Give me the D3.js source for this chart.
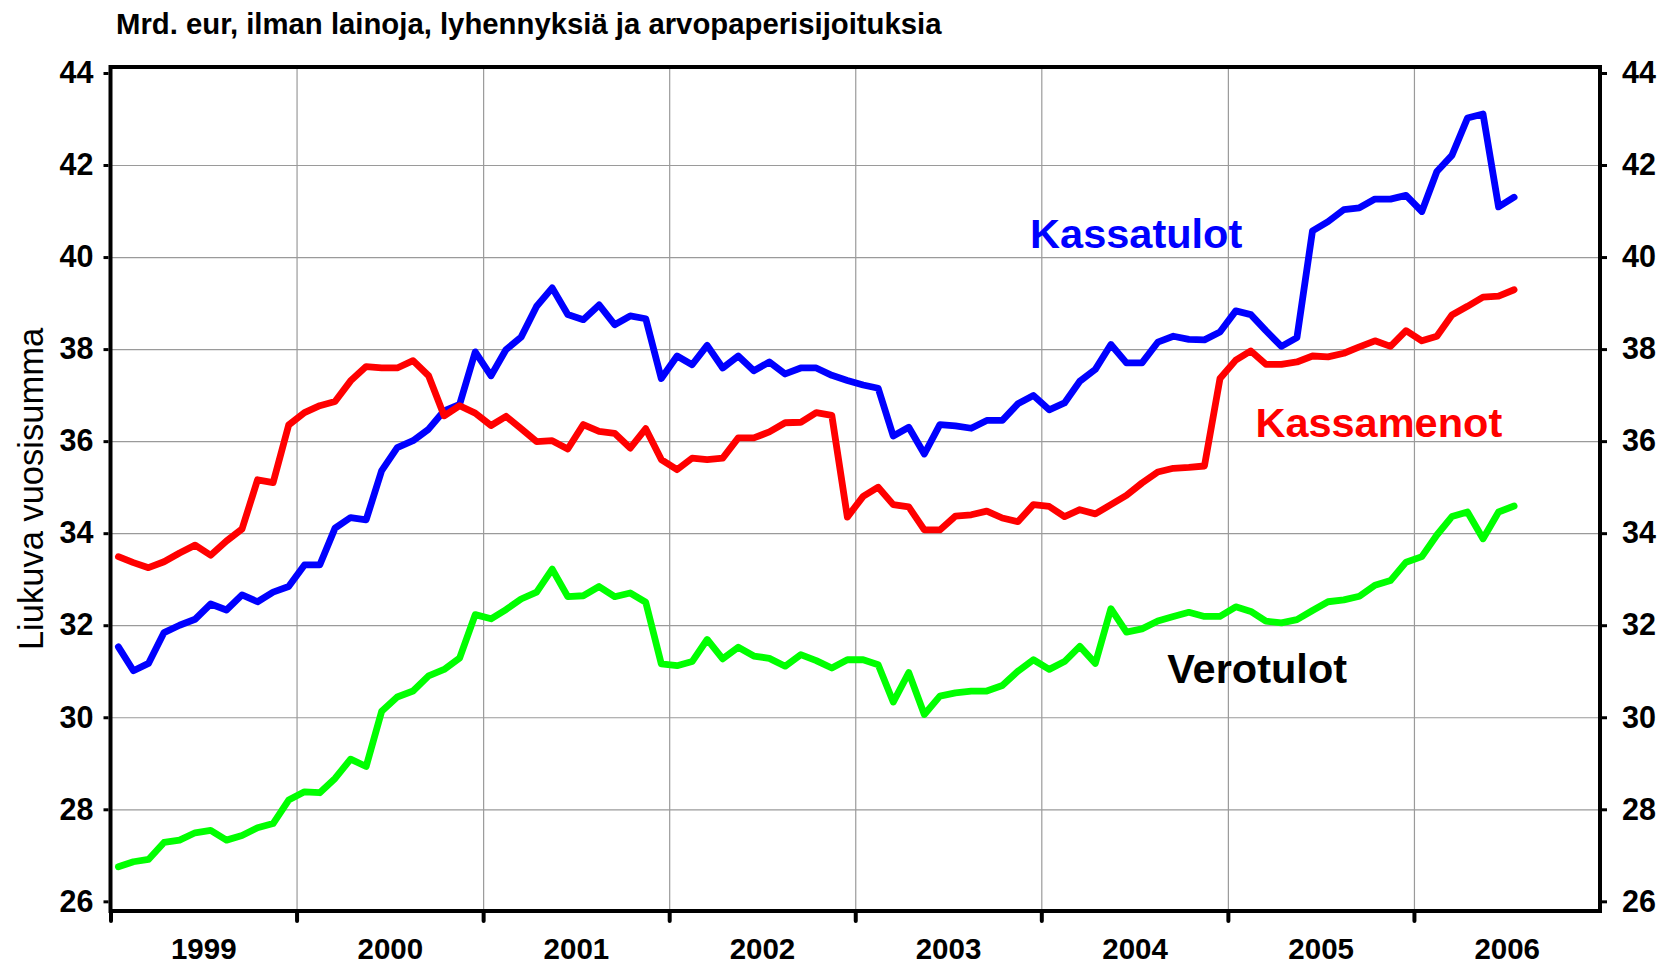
<!DOCTYPE html>
<html>
<head>
<meta charset="utf-8">
<script src="https://cdn.jsdelivr.net/npm/d3@7"></script>
<style>
  body { margin: 0; background: #fff; }
  svg text { font-family: "Liberation Sans", Arial, sans-serif; }
  .tick text { font-weight: bold; font-size: 30.5px; fill: #000; }
  .grid line { stroke: #9a9a9a; stroke-width: 1.2; }
  .grid path { display: none; }
</style>
</head>
<body>
<div id="chart"></div>
<script>
// monthly rolling 12-month sums, Jan 1999 .. Jul 2006 (bn EUR)
const kassatulot = [
  31.53, 31.01, 31.17, 31.84, 32.00, 32.13, 32.46, 32.33, 32.66, 32.51, 32.72, 32.84,
  33.31, 33.31, 34.11, 34.34, 34.29, 35.36, 35.86, 36.01, 36.26, 36.66, 36.80, 37.94,
  37.42, 37.99, 38.26, 38.93, 39.33, 38.75, 38.64, 38.96, 38.53, 38.72, 38.66, 37.36,
  37.85, 37.66, 38.08, 37.59, 37.85, 37.53, 37.72, 37.46, 37.59, 37.59, 37.43, 37.32,
  37.22, 37.15, 36.11, 36.30, 35.72, 36.36, 36.33, 36.28, 36.45, 36.45, 36.81, 36.99,
  36.68, 36.83, 37.30, 37.56, 38.10, 37.70, 37.70, 38.15, 38.28, 38.21, 38.20, 38.37,
  38.83, 38.75, 38.40, 38.06, 38.25, 40.57, 40.77, 41.03, 41.07, 41.26, 41.26, 41.34,
  40.99, 41.86, 42.21, 43.02, 43.11, 41.09, 41.30
];
const kassamenot = [
  33.49, 33.36, 33.25, 33.38, 33.57, 33.74, 33.52, 33.83, 34.09, 35.16, 35.10, 36.35,
  36.62, 36.77, 36.86, 37.31, 37.62, 37.59, 37.59, 37.75, 37.42, 36.55, 36.77, 36.61,
  36.34, 36.54, 36.27, 35.99, 36.01, 35.83, 36.36, 36.21, 36.17, 35.85, 36.27, 35.60,
  35.38, 35.63, 35.60, 35.63, 36.07, 36.07, 36.20, 36.40, 36.41, 36.62, 36.56, 34.35,
  34.80, 35.00, 34.62, 34.57, 34.07, 34.07, 34.37, 34.40, 34.48, 34.33, 34.25, 34.62,
  34.58, 34.36, 34.51, 34.42, 34.62, 34.82, 35.09, 35.33, 35.41, 35.43, 35.46, 37.36,
  37.76, 37.96, 37.67, 37.67, 37.72, 37.85, 37.83, 37.91, 38.05, 38.18, 38.06, 38.40,
  38.18, 38.28, 38.74, 38.93, 39.13, 39.15, 39.29
];
const verotulot = [
  26.75, 26.86, 26.91, 27.28, 27.33, 27.49, 27.54, 27.33, 27.43, 27.60, 27.69, 28.20,
  28.38, 28.36, 28.67, 29.09, 28.93, 30.13, 30.44, 30.57, 30.90, 31.04, 31.29, 32.23,
  32.14, 32.34, 32.57, 32.72, 33.22, 32.62, 32.64, 32.84, 32.62, 32.70, 32.50, 31.16,
  31.12, 31.21, 31.69, 31.27, 31.52, 31.33, 31.28, 31.11, 31.36, 31.23, 31.07, 31.25,
  31.25, 31.14, 30.33, 30.97, 30.06, 30.46, 30.53, 30.57, 30.57, 30.69, 31.00, 31.25,
  31.04, 31.21, 31.54, 31.17, 32.36, 31.85, 31.92, 32.09, 32.19, 32.28, 32.19, 32.19,
  32.40, 32.30, 32.09, 32.05, 32.12, 32.32, 32.51, 32.55, 32.63, 32.87, 32.97, 33.37,
  33.49, 33.96, 34.36, 34.46, 33.88, 34.46, 34.59
];
const months = d3.timeMonth.range(new Date(1999, 0, 1), new Date(2006, 7, 1));
const years = [1999, 2000, 2001, 2002, 2003, 2004, 2005, 2006];
const yTicks = [26, 28, 30, 32, 34, 36, 38, 40, 42, 44];

const series = [
  { name: "Kassatulot", values: kassatulot, color: "#0000ff", label: [new Date(2003, 11, 10), 40.2] },
  { name: "Kassamenot", values: kassamenot, color: "#ff0000", label: [new Date(2005, 1, 24), 36.1] },
  { name: "Verotulot", values: verotulot, color: "#000000", line: "#00ff00", label: [new Date(2004, 8, 4), 30.75] }
];

/** CONSTANTS */
const width = 1666,
    height = 965,
    margin = { top: 67, right: 66, bottom: 54, left: 110.5 };

/** SCALES */
const x = d3.scaleTime()
    .domain([new Date(1999, 0, 1), new Date(2007, 0, 1)])
    .range([margin.left, width - margin.right]);

const y = d3.scaleLinear()
    .domain([25.79, 44.13])
    .range([height - margin.bottom, margin.top]);

// points sit in the middle of each month
const xMid = d => (x(d) + x(d3.timeMonth.offset(d, 1))) / 2;

const svg = d3.select("#chart")
    .append("svg")
    .attr("width", width)
    .attr("height", height);

svg.append("rect").attr("width", width).attr("height", height).attr("fill", "#fff");

// grid
svg.append("g")
    .attr("class", "grid")
    .attr("transform", `translate(${margin.left},0)`)
    .call(d3.axisLeft(y).tickValues(yTicks.slice(1, -1)).tickSize(-(width - margin.left - margin.right)).tickFormat(""));

svg.append("g")
    .attr("class", "grid")
    .attr("transform", `translate(0,${height - margin.bottom})`)
    .call(d3.axisBottom(x).tickValues(years.slice(1).map(yr => new Date(yr, 0, 1))).tickSize(-(height - margin.top - margin.bottom)).tickFormat(""));

// lines
const line = d3.line()
    .x((d, i) => xMid(months[i]))
    .y(d => y(d));

svg.selectAll("path.series")
    .data(series)
    .join("path")
    .attr("class", "series")
    .attr("d", d => line(d.values))
    .attr("fill", "none")
    .attr("stroke", d => d.line || d.color)
    .attr("stroke-width", 6.8)
    .attr("stroke-linejoin", "round")
    .attr("stroke-linecap", "round");

// plot frame
svg.append("rect")
    .attr("x", margin.left)
    .attr("y", margin.top)
    .attr("width", width - margin.left - margin.right)
    .attr("height", height - margin.top - margin.bottom)
    .attr("fill", "none")
    .attr("stroke", "#000")
    .attr("stroke-width", 4);

// y axes
const yLeft = svg.append("g")
    .attr("transform", `translate(${margin.left - 2},0)`)
    .call(d3.axisLeft(y).tickValues(yTicks).tickSize(5).tickPadding(10));
const yRight = svg.append("g")
    .attr("transform", `translate(${width - margin.right + 2},0)`)
    .call(d3.axisRight(y).tickValues(yTicks).tickSize(5).tickPadding(15));
[yLeft, yRight].forEach(g => {
    g.select(".domain").remove();
    g.selectAll(".tick line").attr("stroke", "#000").attr("stroke-width", 3);
});

// x axis: year boundary ticks + centred year labels
const xTicks = svg.append("g")
    .attr("transform", `translate(0,${height - margin.bottom + 1})`)
    .call(d3.axisBottom(x).tickValues(years.map(yr => new Date(yr, 0, 1))).tickSize(9).tickFormat(""));
xTicks.select(".domain").remove();
xTicks.selectAll(".tick line").attr("stroke", "#000").attr("stroke-width", 4).attr("stroke-linecap", "round");

const xLabels = svg.append("g")
    .attr("transform", `translate(0,${height - margin.bottom})`)
    .call(d3.axisBottom(x).tickValues(years.map(yr => new Date(yr, 6, 2))).tickSize(0).tickPadding(27).tickFormat(d3.timeFormat("%Y")));
xLabels.select(".domain").remove();
xLabels.selectAll("text").style("font-size", "29.5px");

// titles
svg.append("text")
    .attr("x", 116)
    .attr("y", 34)
    .attr("font-size", 29.3)
    .attr("font-weight", "bold")
    .text("Mrd. eur, ilman lainoja, lyhennyksiä ja arvopaperisijoituksia");

svg.append("text")
    .attr("transform", `translate(43,${(margin.top + height - margin.bottom) / 2})rotate(-90)`)
    .attr("text-anchor", "middle")
    .attr("font-size", 34.5)
    .text("Liukuva vuosisumma");

// series labels
svg.selectAll("text.label")
    .data(series)
    .join("text")
    .attr("class", "label")
    .attr("x", d => x(d.label[0]))
    .attr("y", d => y(d.label[1]))
    .attr("fill", d => d.color)
    .attr("font-size", 41.5)
    .attr("font-weight", "bold")
    .text(d => d.name);
</script>
</body>
</html>
